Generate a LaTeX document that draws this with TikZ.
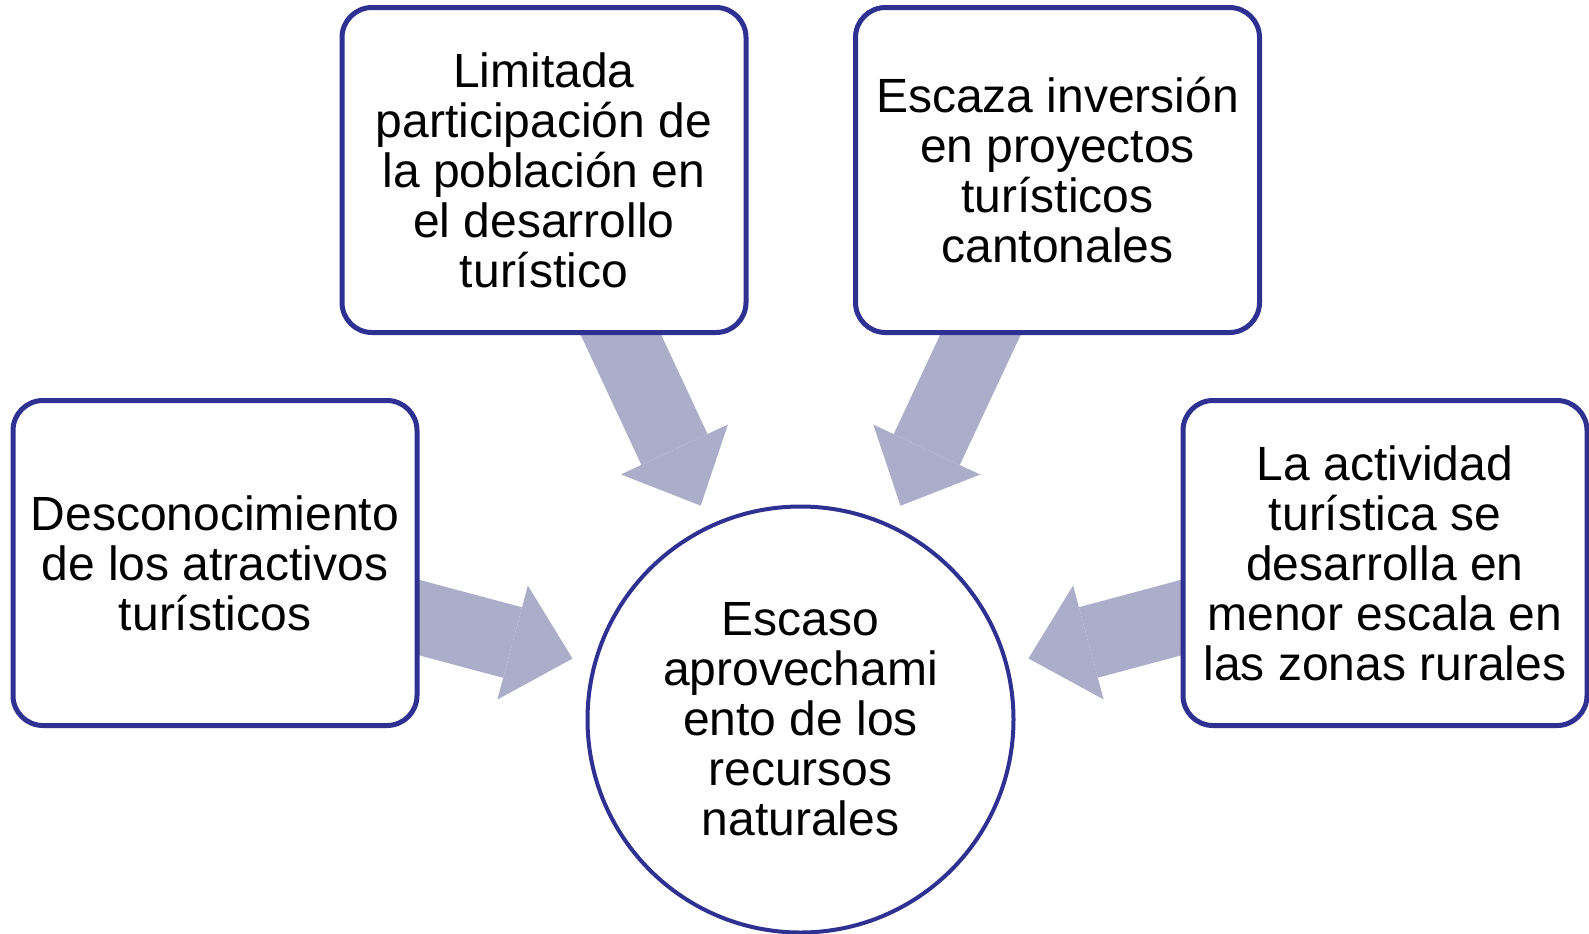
\documentclass[tikz,border=0pt]{standalone}
\usepackage{fontspec}
\setmainfont{Liberation Sans}
\usepackage{tikz}
\usetikzlibrary{arrows.meta, positioning, backgrounds}
\definecolor{framecol}{RGB}{46,49,146}
\definecolor{arrowcol}{RGB}{172,173,201}

\begin{document}
\begin{tikzpicture}[x=0.5pt, y=-0.5pt,
        box/.style={rectangle, draw=framecol, line width=2.5pt, rounded corners=15pt, fill=white,
            minimum width=202pt, minimum height=162.5pt, inner sep=0pt, align=center,
            font=\fontsize{24}{25}\selectfont},
        goal/.style={circle, draw=framecol, line width=2pt, fill=white, minimum size=213pt,
            inner sep=0pt, align=center, font=\fontsize{24}{25}\selectfont},
        fat/.style={draw=arrowcol, line width=36.5pt,
            preaction={draw=arrowcol, -, shorten >=34pt},
            -{Triangle[width=59pt, length=31pt, line width=0pt]}, shorten >=10.5pt}
    ]
        \useasboundingbox (0,0) rectangle (1589,933);
        \node[box] (desc) at (215,563) {Desconocimiento\\de los atractivos\\turísticos};
        \node[box] (part) at (544,170) {Limitada\\participación de\\la población en\\el desarrollo\\turístico};
        \node[box] (inv) at (1057.5,170) {Escaza inversión\\en proyectos\\turísticos\\cantonales};
        \node[box] (rural) at (1385,563) {La actividad\\turística se\\desarrolla en\\menor escala en\\las zonas rurales};
        \node[goal] (rec) at (800.5,719.5) {Escaso\\aprovechami\\ento de los\\recursos\\naturales};
        % arrows behind the boxes
        \begin{scope}[on background layer]
            \draw[fat] (desc.center) -- (rec);
            \draw[fat] (part.center) -- (rec);
            \draw[fat] (inv.center) -- (rec);
            \draw[fat] (rural.center) -- (rec);
        \end{scope}
    \end{tikzpicture}
\end{document}
